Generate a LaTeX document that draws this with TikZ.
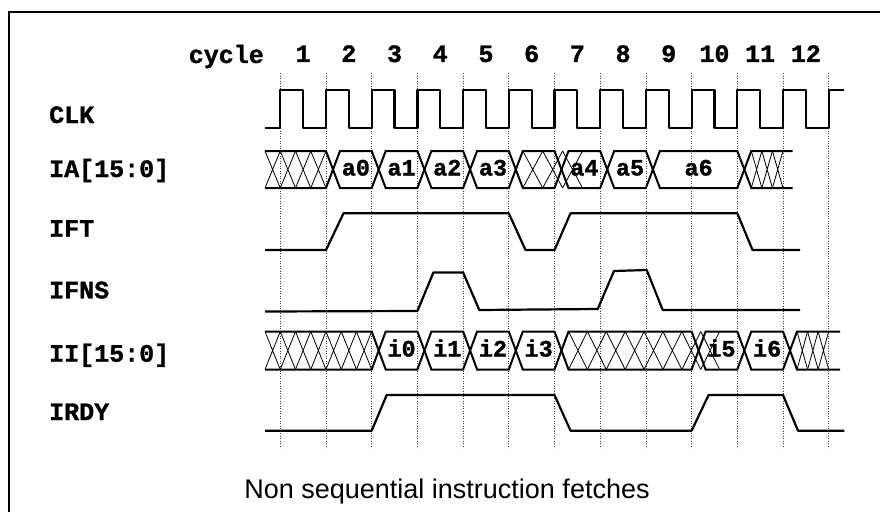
\documentclass[tikz,border=0pt]{standalone}
\usepackage{fontspec}
\setmainfont{Liberation Sans}
\newfontfamily\monofont{Liberation Mono}[BoldFeatures={FakeBold=1.2}]
\tikzset{
  sig/.style={line width=2.2pt, line join=round},
  bus/.style={line width=2pt, line join=miter},
  hatchline/.style={line width=0.8pt},
  gridline/.style={line width=0.7pt, black!75, dash pattern=on 0.9pt off 1.6pt},
  siglabel/.style={anchor=base west, inner sep=0pt, font=\monofont\bfseries\fontsize{25}{25}\selectfont},
  cyclabel/.style={anchor=base, inner sep=0pt, font=\monofont\bfseries\fontsize{25}{25}\selectfont},
  buslabel/.style={anchor=base, inner sep=0pt, font=\monofont\bfseries\fontsize{23.5}{23.5}\selectfont},
  caption/.style={anchor=base, inner sep=0pt, font=\fontsize{27}{27}\selectfont},
  frame/.style={line width=1.2pt}
}
% value segment: name, xs, xe, top, bot, label
\newcommand\busval[6]{%
  \draw[bus] ({#2+7},{(#4+#5)/2}) -- ({#2+14},#4) -- (#3,#4) -- ({#3+7},{(#4+#5)/2})
     -- (#3,#5) -- ({#2+14},#5) -- cycle;
  \node[buslabel] (#1) at ({(#2+14+#3)/2},{(#4+#5)/2+6}) {#6};}
% crosses: a, b, top, bot, n
\newcommand\xhatch[5]{%
  \pgfmathsetmacro\hp{(#2-#1)/#5}%
  \foreach \i in {1,...,#5}{%
    \draw[hatchline] ({#1+(\i-1)*\hp},#3) -- ({#1+\i*\hp},#4)
                     ({#1+(\i-1)*\hp},#4) -- ({#1+\i*\hp},#3);}}
% middle hatch segment: xs, xe, top, bot, n
\newcommand\hatchmid[5]{%
  \draw[bus] ({#1+7},{(#3+#4)/2}) -- ({#1+14},#3) -- (#2,#3) -- ({#2+7},{(#3+#4)/2})
     -- (#2,#4) -- ({#1+14},#4) -- cycle;
  \xhatch{#1+14}{#2}{#3}{#4}{#5}}
\begin{document}
\begin{tikzpicture}[x=1pt,y=-1pt]
\useasboundingbox (0,0) rectangle (880,511);
\clip (0,0) rectangle (880,511);
\fill[white] (0,0) rectangle (880,511);
% frame
\draw[frame] (9,530) -- (9,12) -- (900,12);
% grid
\foreach \k in {0,...,12}{
  \coordinate (gt\k) at ({280.3+45.7*\k},73);
  \coordinate (gb\k) at ({280.3+45.7*\k},448);
  \draw[gridline] (gt\k) -- (gb\k);
}
% cycle labels
\node[anchor=base east, inner sep=0pt, font=\monofont\bfseries\fontsize{25}{25}\selectfont] (cyc) at (264,63) {cycle};
\foreach \k in {1,...,12}{
  \node[cyclabel] (c\k) at ({280.3+45.7*(\k-0.5)},62) {\k};
}
% signal labels
\node[siglabel] (lclk) at (49,123) {CLK};
\node[siglabel] (lia) at (49,177) {IA[15:0]};
\node[siglabel] (lift) at (49,236.7) {IFT};
\node[siglabel] (lifns) at (49,298.3) {IFNS};
\node[siglabel] (lii) at (49,361.7) {II[15:0]};
\node[siglabel] (lirdy) at (49,420) {IRDY};
% CLK
\draw[sig] (265,127.7) -| (280.3,90) -| (303.15,127.7) -| (326,90) -| (348.85,127.7)
  -| (371.7,90) -| (394.55,127.7) -| (417.4,90) -| (440.25,127.7) -| (463.1,90)
  -| (485.95,127.7) -| (508.8,90) -| (531.65,127.7) -| (554.5,90) -| (577.35,127.7)
  -| (600.2,90) -| (623.05,127.7) -| (645.9,90) -| (668.75,127.7) -| (691.6,90)
  -| (714.45,127.7) -| (737.3,90) -| (760.15,127.7) -| (783,90) -| (805.85,127.7)
  -| (828.7,90) -- (844.3,90);
% IA bus  (top 151, bot 188)
\draw[bus] (265,151) -- (326,151) -- (333,169.5) -- (326,188) -- (265,188);
\xhatch{265}{326}{151}{188}{4}
\busval{a0}{326}{371.7}{151}{188}{a0}
\busval{a1}{371.7}{417.4}{151}{188}{a1}
\busval{a2}{417.4}{463.1}{151}{188}{a2}
\busval{a3}{463.1}{508.8}{151}{188}{a3}
\hatchmid{508.8}{554.5}{151}{188}{3}
\busval{a4}{554.5}{600.2}{151}{188}{a4}
\busval{a5}{600.2}{645.9}{151}{188}{a5}
\busval{a6}{645.9}{737.3}{151}{188}{a6}
\draw[bus] (792.7,151) -- (751.3,151) -- (744.3,169.5) -- (751.3,188) -- (792.7,188);
\xhatch{751.3}{783}{151}{188}{3}
% IFT
\draw[sig] (265,250) -- (326,250) -- (343.5,213.3) -- (508.8,213.3) -- (525.5,250)
  -- (554.5,250) -- (570.5,213.3) -- (737.3,213.3) -- (752.5,250) -- (800,250);
% IFNS
\draw[sig] (265,311.5) -- (417.4,311) -- (433.4,272.5) -- (463.1,272.5) -- (479.3,310)
  -- (597.7,309) -- (614,271) -- (646.7,270) -- (662.7,310) -- (800,310);
% II bus (top 331.5, bot 369.5)
\draw[bus] (265,331.5) -- (371.7,331.5) -- (378.7,350.5) -- (371.7,369.5) -- (265,369.5);
\xhatch{265}{371.7}{331.5}{369.5}{7}
\busval{i0}{371.7}{417.4}{331.5}{369.5}{i0}
\busval{i1}{417.4}{463.1}{331.5}{369.5}{i1}
\busval{i2}{463.1}{508.8}{331.5}{369.5}{i2}
\busval{i3}{508.8}{554.5}{331.5}{369.5}{i3}
\hatchmid{554.5}{691.6}{331.5}{369.5}{8}
\busval{i5}{691.6}{737.3}{331.5}{369.5}{i5}
\busval{i6}{737.3}{783}{331.5}{369.5}{i6}
\draw[bus] (840,331.5) -- (797,331.5) -- (790,350.5) -- (797,369.5) -- (840,369.5);
\xhatch{797}{828.7}{331.5}{369.5}{3}
% IRDY
\draw[sig] (265,430.7) -- (371.7,430.7) -- (386.7,395) -- (554.5,395) -- (570.5,430.7)
  -- (691.6,430.7) -- (708.6,395) -- (783,395) -- (798,430.7) -- (844.3,430.7);
% caption
\node[caption] (cap) at (447,498) {Non sequential instruction fetches};
\end{tikzpicture}
\end{document}
